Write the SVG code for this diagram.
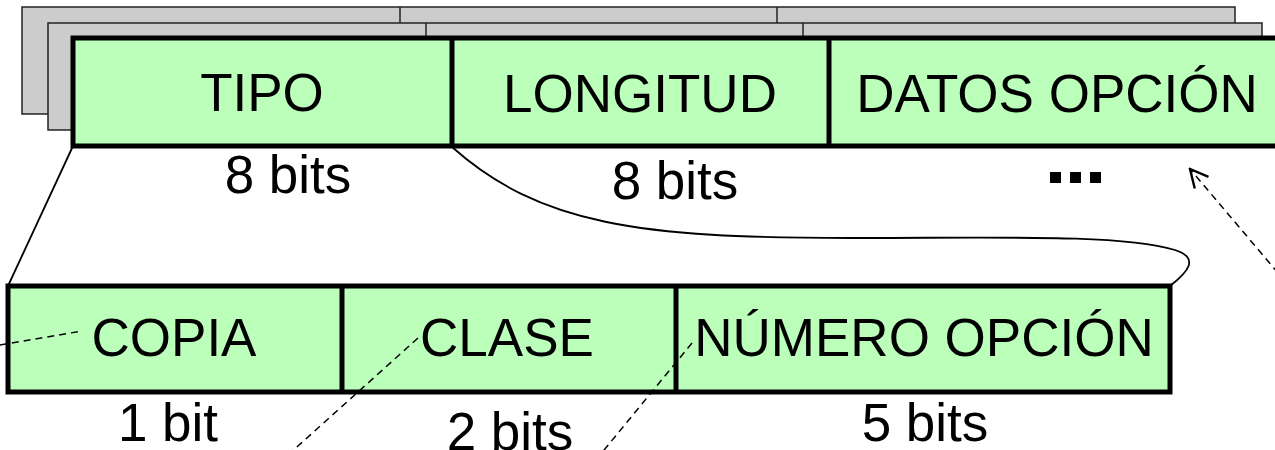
<svg xmlns="http://www.w3.org/2000/svg" width="1275" height="450" viewBox="0 0 1275 450">
<defs>
<style>
.back{fill:#cccccc;stroke:#222;stroke-width:1.5}
.box{fill:#bbffbb;stroke:#000;stroke-width:5}
.div{stroke:#000;stroke-width:5}
.bdiv{stroke:#222;stroke-width:1.5}
text{font-family:"Liberation Sans",Arial,sans-serif;font-size:53px;fill:#000;text-anchor:middle}
.dash{fill:none;stroke:#000;stroke-width:1.5;stroke-dasharray:7 5}
.solid{fill:none;stroke:#000;stroke-width:1.8}
</style>
<marker id="open" viewBox="0 0 22 22" refX="20" refY="11" markerWidth="22" markerHeight="22" markerUnits="userSpaceOnUse" orient="auto">
<path d="M2,2 L20,11 L2,20" fill="none" stroke="#000" stroke-width="2.4"/>
</marker>
</defs>
<g id="background-stack">
<rect class="back" x="22" y="7" width="1213" height="107"/>
<line class="bdiv" x1="400" y1="7" x2="400" y2="114"/>
<line class="bdiv" x1="777" y1="7" x2="777" y2="114"/>
<rect class="back" x="48" y="23" width="1214" height="107"/>
<line class="bdiv" x1="426" y1="23" x2="426" y2="130"/>
<line class="bdiv" x1="803" y1="23" x2="803" y2="130"/>
</g>
<g id="option-header">
<rect class="box" x="73" y="38" width="1240" height="108"/>
<line class="div" x1="452" y1="38" x2="452" y2="146"/>
<line class="div" x1="829" y1="38" x2="829" y2="146"/>
</g>
<g id="tipo"><text x="262" y="111">TIPO</text><text x="288" y="193">8 bits</text></g>
<g id="longitud"><text x="640" y="112">LONGITUD</text><text x="675" y="199">8 bits</text></g>
<g id="datos-opcion"><text x="1057" y="112">DATOS OPCIÓN</text>
<rect x="1050" y="172" width="11" height="11"/><rect x="1070" y="172" width="11" height="11"/><rect x="1090" y="172" width="11" height="11"/></g>
<g id="tipo-detail">
<rect class="box" x="8" y="286" width="1162" height="106"/>
<line class="div" x1="342" y1="286" x2="342" y2="392"/>
<line class="div" x1="676" y1="286" x2="676" y2="392"/>
</g>
<g id="copia"><text x="174" y="356">COPIA</text><text x="168" y="441">1 bit</text></g>
<g id="clase"><text x="507" y="356">CLASE</text><text x="510" y="450">2 bits</text></g>
<g id="numero-opcion"><text x="924" y="356">NÚMERO OPCIÓN</text><text x="925" y="441">5 bits</text></g>
<g id="connectors">
<line class="solid" x1="73" y1="146" x2="8" y2="286"/>
<path class="solid" d="M452,147 C540,225 640,238 850,238 C1000,238 1120,234 1175,250 C1200,258 1188,272 1170,286"/>
<line class="dash" x1="0" y1="345" x2="82" y2="331"/>
<line class="dash" x1="418" y1="338" x2="288" y2="455"/>
<line class="dash" x1="692" y1="343" x2="600" y2="455"/>
<line class="dash" x1="1278" y1="273" x2="1190" y2="169" marker-end="url(#open)"/>
</g>
</svg>
